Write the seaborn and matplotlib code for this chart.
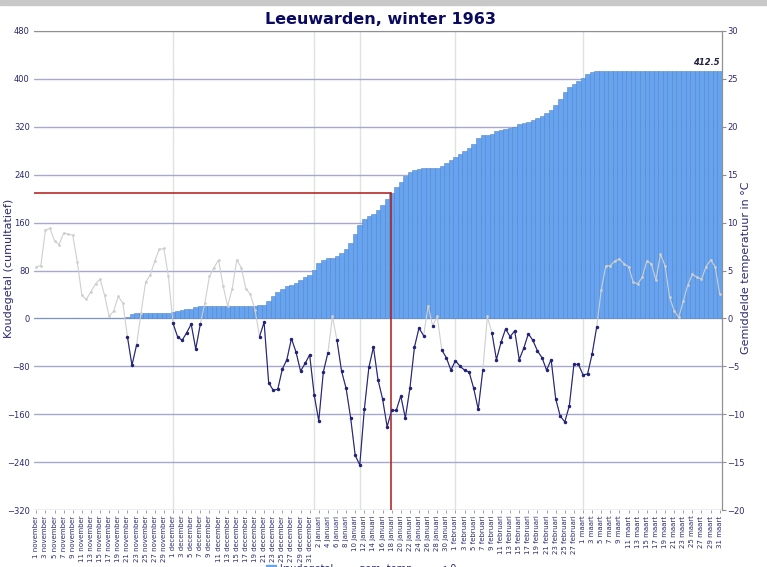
import numpy as np
import pandas as pd
import matplotlib
matplotlib.use("Agg")
import matplotlib.pyplot as plt
from matplotlib.patches import Patch, Rectangle
from matplotlib.lines import Line2D
import seaborn as sns

# Daily mean temperature Leeuwarden, 1 Nov 1962 - 31 Mar 1963
temp_nov = [5.4, 5.5, 9.2, 9.4, 8.1, 7.7, 8.9, 8.8, 8.7, 5.9,
            2.4, 2.0, 2.8, 3.6, 4.1, 2.4, 0.2, 0.8, 2.3, 1.6,
            -1.9, -4.9, -2.8, 0.6, 3.8, 4.5, 6.0, 7.2, 7.3, 4.4]
temp_dec = [-0.5, -1.9, -2.3, -1.5, -0.6, -3.2, -0.6, 1.6, 4.4, 5.3,
            6.1, 3.4, 1.3, 3.1, 6.1, 5.3, 3.1, 2.5, 0.9, -1.9,
            -0.4, -6.7, -7.5, -7.4, -5.3, -4.3, -2.1, -3.5, -5.5, -4.7,
            -3.8]
temp_jan = [-8.0, -10.7, -5.6, -3.6, 0.2, -2.3, -5.5, -7.3, -10.4, -14.3,
            -15.3, -9.5, -5.1, -3.0, -6.4, -8.4, -11.3, -9.6, -9.6, -8.1,
            -10.4, -7.3, -3.0, -1.0, -1.8, 1.3, -0.8, 0.2, -3.3, -4.1,
            -5.4]
temp_feb = [-4.4, -5.0, -5.4, -5.6, -7.3, -9.5, -5.4, 0.2, -1.5, -4.3,
            -2.5, -1.1, -1.9, -1.3, -4.3, -3.1, -1.6, -2.3, -3.4, -4.1,
            -5.4, -4.3, -8.4, -10.2, -10.8, -9.1, -4.8, -4.8]
temp_mrt = [-5.9, -5.8, -3.7, -0.9, 3.0, 5.5, 5.5, 6.0, 6.2, 5.7,
            5.4, 3.8, 3.6, 4.3, 6.0, 5.7, 4.0, 6.7, 5.5, 2.2,
            0.8, 0.1, 1.8, 3.5, 4.6, 4.3, 4.1, 5.4, 6.1, 5.4,
            2.5]

# Cumulative koudegetal per day
koude_nov = [0.0] * 20 + [1.9, 6.8, 9.6, 9.6, 9.6, 9.6, 9.6, 9.6, 9.6, 9.6]
koude_dec = [10.1, 12.0, 14.3, 15.8, 16.4, 19.6, 20.2, 20.2, 20.2, 20.2,
             20.2, 20.2, 20.2, 20.2, 20.2, 20.2, 20.2, 20.2, 20.2, 22.1,
             22.5, 29.2, 36.7, 44.1, 49.4, 53.7, 55.8, 59.3, 64.8, 69.5,
             73.3]
koude_jan = [81.3, 92.0, 97.6, 101.2, 101.2, 103.5, 109.0, 116.3, 126.7, 141.0,
             156.3, 165.8, 170.9, 173.9, 180.3, 188.7, 200.0, 209.6, 219.2, 227.3,
             237.7, 245.0, 248.0, 249.0, 250.8, 250.8, 251.6, 251.6, 254.9, 259.0,
             264.4]
koude_feb = [268.8, 273.8, 279.2, 284.8, 292.1, 301.6, 307.0, 307.0, 308.5, 312.8,
             315.3, 316.4, 318.3, 319.6, 323.9, 327.0, 328.6, 330.9, 334.3, 338.4,
             343.8, 348.1, 356.5, 366.7, 377.5, 386.6, 391.4, 396.2]
koude_mrt = [402.1, 407.9, 411.6] + [412.5] * 28

maanden = ["november", "december", "januari", "februari", "maart"]
maand_dagen = [30, 31, 31, 28, 31]

temp = temp_nov + temp_dec + temp_jan + temp_feb + temp_mrt
koude = koude_nov + koude_dec + koude_jan + koude_feb + koude_mrt
labels = [f"{d} {m}" for m, n in zip(maanden, maand_dagen) for d in range(1, n + 1)]

df = pd.DataFrame({"dag": np.arange(len(temp)), "datum": labels,
                   "temp": temp, "koudegetal": koude})
df["run"] = (df["temp"] >= 0).cumsum()
neg = df[df["temp"] < 0]

sns.set_style("white")
plt.rcParams["font.family"] = ["DejaVu Sans"]

fig = plt.figure(figsize=(7.67, 5.67), dpi=100)
ax = fig.add_axes([34 / 767, 1 - 510 / 567, 688 / 767, 479 / 567])

navy = "#2a2a70"
sns.barplot(data=df, x="dag", y="koudegetal", color="#66a3f0", saturation=1,
            width=1.0, edgecolor="#5585c4", linewidth=0.4, ax=ax)
ax.set_ylim(-320, 480)
ax.set_xlim(-0.5, len(temp) - 0.5)
ax.set_yticks(np.arange(-320, 481, 80))
ax.yaxis.grid(True, color="#a8a8cc", linewidth=1)
ax.set_axisbelow(True)
for d in [30, 61, 71, 92, 120]:
    ax.axvline(d, color="#dde3dd", linewidth=1, zorder=0)
ax.set_xticks(np.arange(0, len(temp), 2))
ax.set_xticklabels(labels[::2], rotation=90, fontsize=5, color=navy)
ax.tick_params(axis="x", length=2, width=0.6, color="#909090", pad=2, bottom=True)
ax.tick_params(axis="y", length=0, labelsize=6, labelcolor=navy, pad=3)
ax.set_xlabel("")
ax.set_ylabel("")
for s in ["left", "bottom"]:
    ax.spines[s].set_visible(False)
for s in ["top", "right"]:
    ax.spines[s].set_color("#909090")

# red marker lines at 18 januari
dag_rood = 77.8
k_rood = koude[78]
ax.plot([-0.5, dag_rood], [k_rood, k_rood], color="#b01818", linewidth=1.1, zorder=5)
ax.plot([dag_rood, dag_rood], [-320, k_rood], color="#b01818", linewidth=1.1, zorder=5)
ax.annotate("412.5", xy=(len(temp) - 0.5, koude[-1]), xytext=(-2, 3),
            textcoords="offset points", ha="right", va="bottom",
            fontsize=6, fontweight="bold", fontstyle="italic", color="#202040")

ax2 = ax.twinx()
sns.lineplot(data=df, x="dag", y="temp", color="#cfcfcf", linewidth=0.8,
             marker="o", markersize=2, markeredgewidth=0, ax=ax2)
sns.lineplot(data=neg, x="dag", y="temp", units="run", estimator=None,
             color="#22227a", linewidth=0.8, marker="o", markersize=2.5,
             markeredgewidth=0, ax=ax2)
ax2.set_ylim(-20, 30)
ax2.set_yticks(np.arange(-20, 31, 5))
ax2.tick_params(axis="y", length=3, width=0.8, color="#909090",
                labelsize=6, labelcolor=navy, pad=1)
ax2.set_ylabel("")
ax2.set_xlabel("")
for s in ["left", "bottom", "top"]:
    ax2.spines[s].set_visible(False)
ax2.spines["right"].set_color("#909090")
ax2.set_xlim(-0.5, len(temp) - 0.5)

fig.text(0.496, 1 - 19 / 567, "Leeuwarden, winter 1963", ha="center", va="center",
         fontsize=11.5, fontweight="bold", color="#0a0a60")
fig.text(9 / 767, 1 - 268 / 567, "Koudegetal (cumultatief)", rotation=90,
         ha="center", va="center", fontsize=8, color=navy)
fig.text(746 / 767, 1 - 268 / 567, "Gemiddelde temperatuur in \u00b0C", rotation=90,
         ha="center", va="center", fontsize=8, color=navy)

handles = [Patch(color="#66a3f0"),
           Line2D([], [], color="#cfcfcf", linewidth=1),
           Line2D([], [], color="#22227a", linewidth=1)]
fig.legend(handles, ["koudegetal", "gem. temp", "< 0"], loc="center",
           bbox_to_anchor=(0.471, -0.004), ncol=3, frameon=False, fontsize=7,
           labelcolor=navy, handlelength=1.0, handletextpad=0.3, columnspacing=1.4)

fig.add_artist(Rectangle((0, 1 - 5 / 567), 1, 5 / 567, transform=fig.transFigure,
                         color="#c8c8c8", zorder=10))

fig.savefig("out.png", dpi=100)
